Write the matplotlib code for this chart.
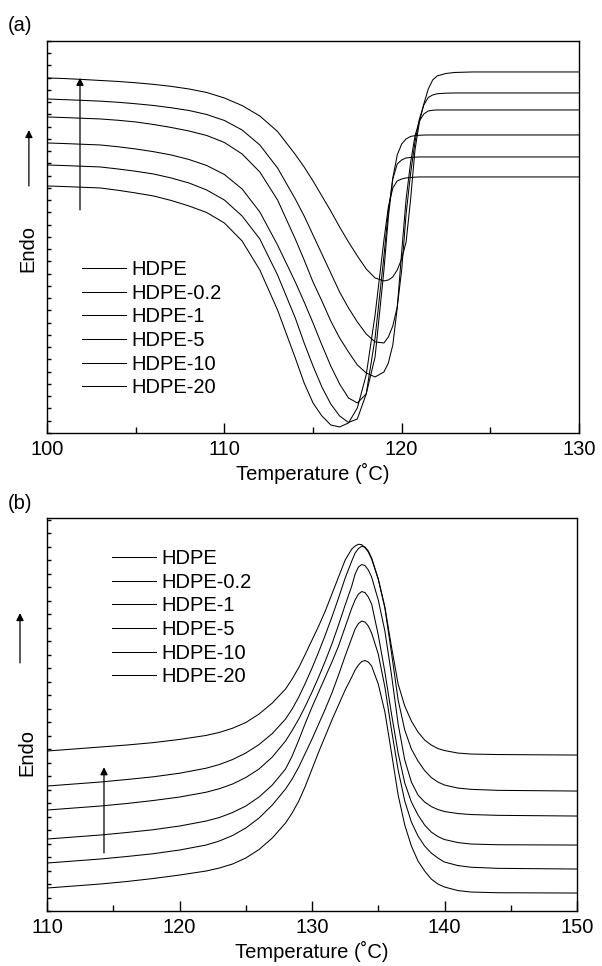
import numpy as np
import matplotlib
matplotlib.use('Agg')
import matplotlib.pyplot as plt
from matplotlib.patches import FancyArrowPatch
from matplotlib.ticker import MultipleLocator, NullFormatter

plt.rcParams['font.family'] = ['Liberation Sans', 'DejaVu Sans']
plt.rcParams['font.size'] = 14.5

labels = ['HDPE', 'HDPE-0.2', 'HDPE-1', 'HDPE-5', 'HDPE-10', 'HDPE-20']

# ── (a) melting scans: temperature (°C) and heat flow (arbitrary units) ──────
a_T = [100, 101, 102, 103, 104, 105, 106, 107, 108, 109, 110, 111, 112, 113, 114,
       114.5, 115, 115.5, 116, 116.5, 117, 117.5, 118, 118.5, 119,
       119.25, 119.5, 119.75, 120, 120.25, 120.5, 120.75, 121, 121.25, 121.5, 121.75, 122,
       122.5, 123, 124, 130]
a_y = {
    'HDPE': [247, 246.4, 245.7, 245, 242.7, 240, 237, 232.5, 227, 220.5, 210, 192, 163, 123, 75,
             50, 30, 17, 8, 6, 10, 25, 58, 118, 193,
             226, 245, 252, 254, 255, 255.5, 255.8, 256, 256, 256, 256, 256,
             256, 256, 256, 256],
    'HDPE-0.2': [268, 267.4, 266.7, 266, 264, 261.7, 259, 255, 250, 243, 233, 217, 194, 158, 115,
                 90, 67, 46, 29, 17, 10.5, 14, 39, 95, 177,
                 222, 254, 269, 273, 275, 275.5, 275.8, 276, 276, 276, 276, 276,
                 276, 276, 276, 276],
    'HDPE-1': [290, 289.4, 288.7, 288, 286.2, 284, 281.3, 278, 273.5, 267.5, 258.5, 244, 221, 188, 151,
               131, 110, 88, 67, 49, 35, 30, 39, 76, 163,
               216, 255, 278, 289, 294, 296.5, 297.3, 297.7, 297.9, 298, 298, 298,
               298, 298, 298, 298],
    'HDPE-5': [316, 315.4, 314.7, 314, 312.7, 311, 308.5, 305.5, 302, 297.5, 290.5, 279, 261, 233, 194,
               173, 151, 132, 112, 95, 81, 68, 60, 56, 61,
               70, 88, 125, 181, 234, 270, 297, 312, 319, 322, 322.7, 323,
               323, 323, 323, 323],
    'HDPE-10': [334, 333.3, 332.6, 331.8, 330.7, 329.2, 327.5, 325.2, 322.5, 318.5, 312.5, 303, 288, 265, 234,
                217, 198, 179, 160, 141, 125, 111, 99, 91, 90,
                96, 107, 126, 163, 219, 259, 291, 314, 328, 335.5, 338, 339.2,
                339.8, 340, 340, 340],
    'HDPE-20': [355, 354.4, 353.5, 352.5, 351.5, 350.2, 348.6, 346.6, 344, 340.5, 335, 327.4, 317, 301.5, 278.5,
                266, 252, 237, 222, 206, 191, 177, 164, 155, 152,
                153, 156, 163, 174, 191, 233, 283, 311, 329, 344, 353, 357,
                359.5, 360.5, 361, 361],
}

# ── (b) cooling scans ────────────────────────────────────────────────────────
b_T = [110, 112, 114, 116, 118, 120, 122, 123, 124, 125, 126, 127, 128,
       128.5, 129, 129.5, 130, 130.5, 131, 131.5, 132, 132.5, 133,
       133.25, 133.5, 133.75, 134, 134.25, 134.5,
       135, 135.5, 136, 136.5, 137, 137.5, 138, 138.5, 139, 139.5, 140,
       141, 142, 144, 150]
b_y = {
    'HDPE': [23, 25, 27, 29.5, 32.5, 36, 40, 43, 47, 53, 61.5, 73, 88,
             98, 110, 125, 142, 159, 175, 191, 206, 221, 234,
             241, 246, 249.5, 250.5, 249, 245,
             227, 199, 158, 116, 86, 65, 50, 40, 32, 27, 24,
             20.5, 19, 18.3, 18],
    'HDPE-0.2': [48, 50, 52, 54.5, 57.3, 61, 66, 70, 75.5, 83, 93, 106, 122,
                 132, 144, 158, 172, 187, 202, 218, 236, 255, 273,
                 282, 287.5, 290, 289, 285, 278,
                 257, 224, 181, 141, 110, 89, 75, 65, 58, 53, 49,
                 45.5, 43.8, 42.7, 42],
    'HDPE-1': [72, 74, 76, 78.5, 81.3, 85, 90, 93.5, 98.5, 105, 114, 126, 142,
               155, 171, 188, 204, 219, 234, 249, 265, 284, 303,
               311, 317, 319.5, 318.5, 314, 307,
               276, 239, 197, 158, 128, 109, 96, 86, 79, 74.5, 71.5,
               68.5, 67, 66.3, 66],
    'HDPE-5': [101, 103, 105, 107.5, 110.5, 114, 118.8, 122.3, 127, 133.5, 142, 154, 170,
               180.5, 192, 205, 219, 234, 250, 267, 286, 306, 325,
               337, 344, 346.5, 345.5, 341, 334,
               311, 280, 236, 187, 151, 129, 116, 109, 104.5, 101.5, 99.5,
               97.5, 96.5, 95.7, 95],
    'HDPE-10': [125, 127, 129, 131.5, 134.2, 137.8, 142.8, 146.5, 151.5, 158, 166.5, 177.5, 192,
                202, 214, 228, 243, 259, 276, 294, 313, 333, 350,
                358, 362.5, 364.8, 364, 360, 353,
                332, 303, 258, 211, 181, 162, 150, 140.5, 133.5, 129, 126,
                123, 121.7, 120.7, 120],
    'HDPE-20': [160, 162, 164, 166, 168.4, 171.6, 175.6, 178.6, 182.8, 188.5, 197, 208, 222,
                232, 243.5, 257, 271, 285, 300, 317, 334, 351, 362,
                365, 366.8, 366.4, 363.5, 359, 352,
                332, 304, 264, 227, 205, 190, 179, 171, 166, 162.5, 160.5,
                158, 157, 156.5, 156],
}

fig = plt.figure(figsize=(6.02, 9.66), dpi=100)
ax1 = fig.add_axes([0.0781, 0.5518, 0.8837, 0.4058])
ax2 = fig.add_axes([0.0781, 0.0569, 0.8804, 0.4068])


def style(ax, xmin, xmax, ymax, ystep):
    ax.set_xlim(xmin, xmax)
    ax.set_ylim(0, ymax)
    ax.xaxis.set_major_locator(MultipleLocator(10))
    ax.xaxis.set_minor_locator(MultipleLocator(5))
    ax.yaxis.set_major_locator(MultipleLocator(ystep))
    ax.yaxis.set_major_formatter(NullFormatter())
    ax.tick_params(axis='x', which='major', direction='in', length=7, width=1,
                   top=False, labelsize=14.5, pad=5)
    ax.tick_params(axis='x', which='minor', direction='in', length=4, width=1, top=False)
    ax.tick_params(axis='y', which='major', direction='in', length=3, width=1, right=False)
    for s in ax.spines.values():
        s.set_linewidth(1.0)
    ax.set_xlabel('Temperature (˚C)', fontsize=14.5, labelpad=3)


for ax, T, Y in [(ax1, a_T, a_y), (ax2, b_T, b_y)]:
    for lab in labels:
        ax.plot(T, Y[lab], color='black', lw=0.75)

style(ax1, 100, 130, 392, 12.25)
style(ax2, 110, 150, 393, 13.5)

leg_kw = dict(loc='upper left', frameon=False, borderpad=0, borderaxespad=0,
              handlelength=2.2, handletextpad=0.25, labelspacing=0.23, fontsize=14.5)
ax1.legend(labels, bbox_to_anchor=(0.0658, 0.441), **leg_kw)
ax2.legend(labels, bbox_to_anchor=(0.1226, 0.921), **leg_kw)

arrow = dict(arrowstyle='-|>', color='black', lw=0.9, mutation_scale=11,
             shrinkA=0, shrinkB=0)
# arrows inside the axes
ax1.annotate('', xy=(0.062, 0.906), xytext=(0.062, 0.569), xycoords='axes fraction',
             arrowprops=arrow)
ax2.annotate('', xy=(0.1075, 0.366), xytext=(0.1075, 0.148), xycoords='axes fraction',
             arrowprops=arrow)
# arrows next to the Endo labels
fig.add_artist(FancyArrowPatch((0.048, 0.8075), (0.048, 0.8654),
                               transform=fig.transFigure, **arrow))
fig.add_artist(FancyArrowPatch((0.0332, 0.3137), (0.0332, 0.3654),
                               transform=fig.transFigure, **arrow))

fig.text(0.0465, 0.743, 'Endo', rotation=90, ha='center', va='center', fontsize=14.5)
fig.text(0.045, 0.2215, 'Endo', rotation=90, ha='center', va='center', fontsize=14.5)
fig.text(0.013, 0.974, '(a)', ha='left', va='center', fontsize=14.5)
fig.text(0.013, 0.479, '(b)', ha='left', va='center', fontsize=14.5)

fig.savefig('out.png', dpi=100)
